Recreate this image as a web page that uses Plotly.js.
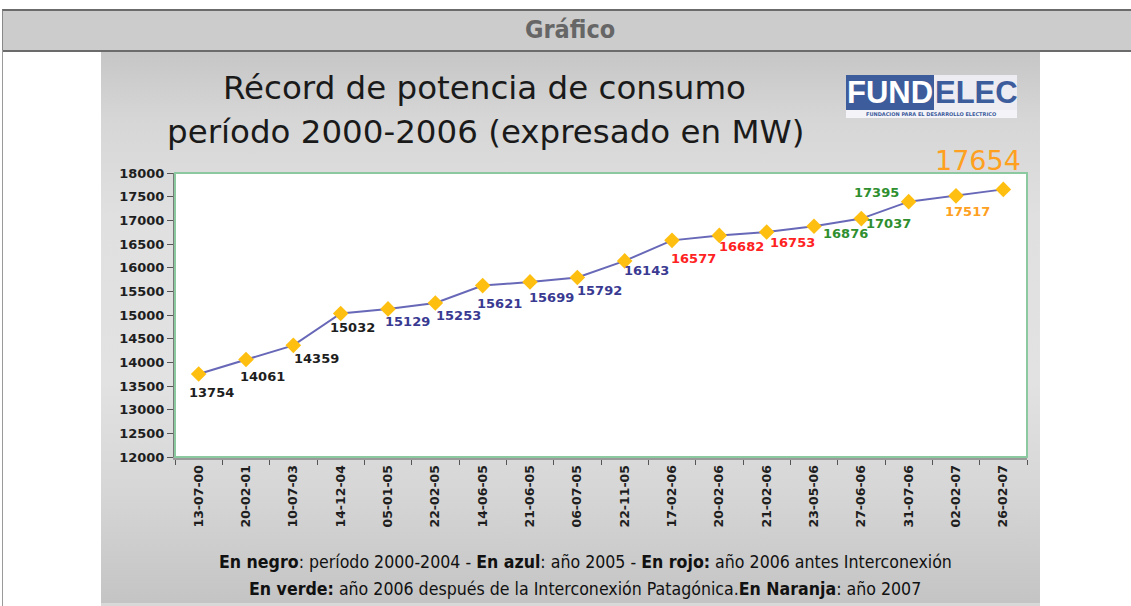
<!DOCTYPE html>
<html>
<head>
<meta charset="utf-8">
<script src="https://cdn.plot.ly/plotly-3.0.1.min.js"></script>
<style>
  html, body { margin:0; padding:0; width:1131px; height:606px; overflow:hidden; background:#ffffff; }
  #hdr { position:absolute; left:2px; top:9px; width:1129px; height:39px; background:#cccccc;
         border-top:2px solid #6b6b6b; border-bottom:2px solid #6b6b6b; border-left:1px solid #888; }
  #lft { position:absolute; left:2px; top:50px; width:1px; height:556px; background:#9a9a9a; }
  #img { position:absolute; left:101px; top:52px; width:939px; height:551px;
         background:linear-gradient(to bottom, #c6c6c6 0%, #d6d6d6 12%, #e0e0e0 30%, #e2e2e2 60%, #d6d6d6 80%, #c4c4c4 100%); }
  #imgb { position:absolute; left:101px; top:603px; width:939px; height:3px; background:#d8d8d8; }
  #chart { position:absolute; left:0; top:0; width:1131px; height:606px; }
</style>
</head>
<body>
<div id="hdr"></div>
<div id="lft"></div>
<div id="img"></div>
<div id="imgb"></div>
<div id="chart"></div>
<script>
// ---- data ----
const fechas = ["13-07-00","20-02-01","10-07-03","14-12-04","05-01-05","22-02-05","14-06-05","21-06-05","06-07-05","22-11-05","17-02-06","20-02-06","21-02-06","23-05-06","27-06-06","31-07-06","02-02-07","26-02-07"];
const potencia = [13754,14061,14359,15032,15129,15253,15621,15699,15792,16143,16577,16682,16753,16876,17037,17395,17517,17654];
const periodo = ["2000-2004","2000-2004","2000-2004","2000-2004","2005","2005","2005","2005","2005","2005","2006a","2006a","2006a","2006b","2006b","2006b","2007","2007"];
const yTicks = [12000,12500,13000,13500,14000,14500,15000,15500,16000,16500,17000,17500,18000];

// ---- styles ----
const periodColor = {"2000-2004":"#1e1e1e","2005":"#3a3a92","2006a":"#ff2222","2006b":"#2f8f2f","2007":"#ffa020"};
const labelDx = [13,16,23,12,19,23,17,21,22,22,21,22,26,31,27,-32,11,-25];
const labelDy = [19,17,13,14,13,12,18,16,13,10,18,11,10,7,5,-9,16,-29];

const L = 175, R = 1027, T = 173, B = 457;
const W = R - L, H = B - T;
const px = x => (x - L) / W;
const py = y => (B - y) / H;

const trace = {
  x: fechas, y: potencia, type: 'scatter', mode: 'lines+markers',
  line: {color:'#6868b8', width:2},
  marker: {symbol:'diamond', size:12, color:'#ffbf10', line:{width:0}},
  hoverinfo:'x+y', showlegend:false
};

const ann = [];
potencia.forEach((v,i) => {
  const last = i === potencia.length - 1;
  ann.push({
    x: fechas[i], y: v, xref:'x', yref:'y', text: String(v), showarrow:false,
    xshift: labelDx[i], yshift: -labelDy[i], xanchor:'center', yanchor:'middle',
    font: last ? {family:'DejaVu Sans', size:27, color:periodColor[periodo[i]]}
               : {family:'DejaVu Sans', size:13, color:periodColor[periodo[i]], weight:'bold'}
  });
});

// header + titles
ann.push({x:px(570), y:py(29), xref:'paper', yref:'paper', text:'<b>Gráfico</b>', showarrow:false,
  font:{family:'DejaVu Sans Condensed, DejaVu Sans', size:25, color:'#666666'}, xanchor:'center', yanchor:'middle'});
ann.push({x:px(484), y:py(88), xref:'paper', yref:'paper', text:'Récord de potencia de consumo', showarrow:false,
  font:{family:'DejaVu Sans', size:32.5, color:'#1a1a1a', weight:500}, xanchor:'center', yanchor:'middle'});
ann.push({x:px(485), y:py(132), xref:'paper', yref:'paper', text:'período 2000-2006 (expresado en MW)', showarrow:false,
  font:{family:'DejaVu Sans', size:32.5, color:'#1a1a1a', weight:500}, xanchor:'center', yanchor:'middle'});

// logo
ann.push({x:px(890), y:py(93), xref:'paper', yref:'paper', text:'<b>FUND</b>', showarrow:false,
  font:{family:'Liberation Sans', size:31, color:'#ffffff'}, xanchor:'center', yanchor:'middle'});
ann.push({x:px(976), y:py(93), xref:'paper', yref:'paper', text:'<b>ELEC</b>', showarrow:false,
  font:{family:'Liberation Sans', size:31, color:'#3d5c9c'}, xanchor:'center', yanchor:'middle'});
ann.push({x:px(931), y:py(114), xref:'paper', yref:'paper', text:'<b>FUNDACION PARA EL DESARROLLO ELECTRICO</b>', showarrow:false,
  font:{family:'DejaVu Sans', size:5, color:'#3d5c9c'}, xanchor:'center', yanchor:'middle'});

// footer
ann.push({x:px(585), y:py(562), xref:'paper', yref:'paper', showarrow:false, xanchor:'center', yanchor:'middle',
  text:'<b>En negro</b>: período 2000-2004 - <b>En azul</b>: año 2005 - <b>En rojo:</b> año 2006 antes Interconexión',
  font:{family:'DejaVu Sans Condensed', size:17.6, color:'#111111'}});
ann.push({x:px(585), y:py(589), xref:'paper', yref:'paper', showarrow:false, xanchor:'center', yanchor:'middle',
  text:'<b>En verde:</b> año 2006 después de la Interconexión Patagónica.<b>En Naranja</b>: año 2007',
  font:{family:'DejaVu Sans Condensed', size:17.6, color:'#111111'}});

const shapes = [
  // logo boxes
  {type:'rect', xref:'paper', yref:'paper', x0:px(846), x1:px(934), y0:py(75), y1:py(110), fillcolor:'#3d5c9c', line:{width:0}, layer:'below'},
  {type:'rect', xref:'paper', yref:'paper', x0:px(934), x1:px(1017), y0:py(75), y1:py(110), fillcolor:'#ececf2', line:{width:0}, layer:'below'},
  {type:'rect', xref:'paper', yref:'paper', x0:px(846), x1:px(1017), y0:py(110), y1:py(118), fillcolor:'#f4f4f8', line:{width:0}, layer:'below'},
  // green plot frame
  {type:'rect', xref:'paper', yref:'paper', x0:0, x1:1, y0:0, y1:1, fillcolor:'rgba(0,0,0,0)', line:{color:'#8cc8a0', width:2}, layer:'above'}
];

const layout = {
  width:1131, height:606,
  margin:{l:L, r:1131-R, t:T, b:606-B},
  paper_bgcolor:'rgba(0,0,0,0)', plot_bgcolor:'#ffffff',
  showlegend:false,
  xaxis:{type:'category', range:[-0.5, fechas.length-0.5], tickangle:-90, tickson:'boundaries',
    ticks:'outside', ticklen:5, tickcolor:'#555', showgrid:false, zeroline:false,
    showline:true, linecolor:'#9a9a9a', linewidth:3, layer:'above traces',
    tickfont:{family:'DejaVu Sans', size:12.5, color:'#1e1e1e', weight:'bold'}},
  yaxis:{range:[12000,18000], tickvals:yTicks, ticktext:yTicks.map(String),
    ticks:'outside', ticklen:6, tickcolor:'#555', showgrid:false, zeroline:false,
    showline:true, linecolor:'#7a7a7a', linewidth:2,
    tickfont:{family:'DejaVu Sans', size:13, color:'#1e1e1e', weight:'bold'}},
  annotations: ann,
  shapes: shapes
};

Plotly.newPlot('chart', [trace], layout, {displayModeBar:false, staticPlot:true});
</script>
</body>
</html>
